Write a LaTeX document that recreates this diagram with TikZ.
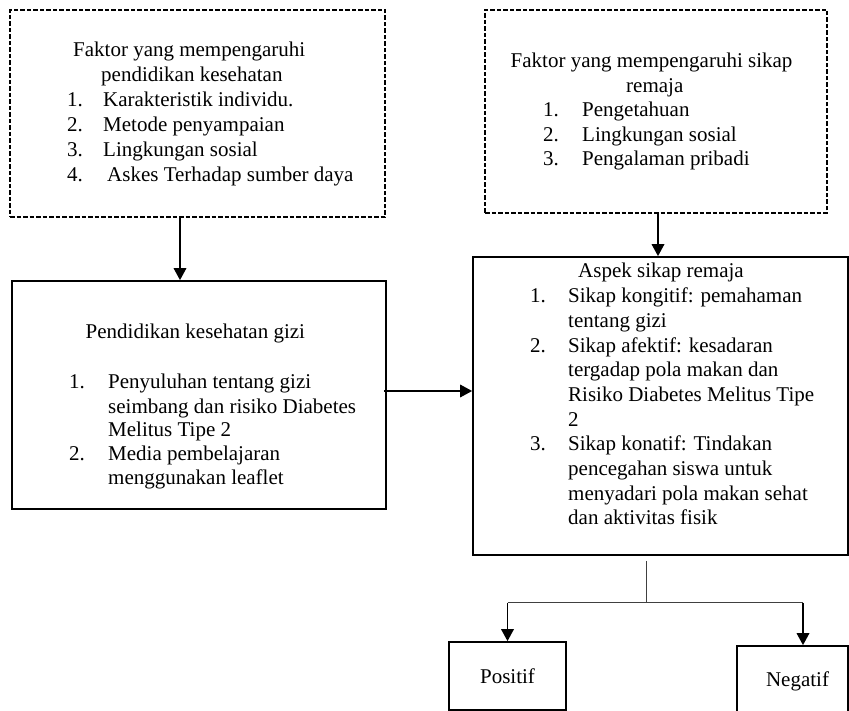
\documentclass[tikz,border=0pt]{standalone}
\usepackage{fontspec}
\setmainfont{Liberation Serif}
\usetikzlibrary{arrows.meta}

\tikzset{
  dbox/.style={draw, dash pattern=on 4.5pt off 2pt, line width=1.7pt, inner sep=0pt},
  sbox/.style={draw, line width=1.7pt, inner sep=0pt},
  txt/.style={anchor=base west, inner sep=0pt},
  arr/.style={-{Triangle[width=12.5pt,length=12pt]}, line width=1.8pt},
  branch/.style={line width=1pt, black!75}
}

\begin{document}
\begin{tikzpicture}[x=1pt, y=-1pt, font=\fontsize{21}{24.5}\selectfont]
    \useasboundingbox (0,0) rectangle (849,711);

    % Factor boxes (top row)
    \node[dbox, minimum width=375pt, minimum height=207pt] (FPend) at (197.5,113.5) {};
    \node[dbox, minimum width=342pt, minimum height=203pt] (FSikap) at (656,111.5) {};

    % Main boxes
    \node[sbox, minimum width=374pt, minimum height=228pt] (Pend) at (199,395) {};
    \node[sbox, minimum width=375pt, minimum height=298pt] (Aspek) at (660.5,406) {};

    % Outcome boxes
    \node[sbox, minimum width=117pt, minimum height=68pt] (Pos) at (507.5,676) {Positif};
    \node[sbox, minimum width=111pt, minimum height=70pt] (Neg) at (792.5,681) {\hspace{10pt}Negatif};

    % Box texts
    \node[txt, font=\fontsize{21}{25}\selectfont] (FPendT) at (67,57) {\begin{tabular}[t]{@{}p{36pt}@{}l@{}}
        \multicolumn{2}{@{}l@{}}{\hspace{6pt}Faktor yang mempengaruhi}\\
        \multicolumn{2}{@{}l@{}}{\hspace{34pt}pendidikan kesehatan}\\
        1. & Karakteristik individu.\\
        2. & Metode penyampaian\\
        3. & Lingkungan sosial\\
        4. & \hspace{4pt}Askes Terhadap sumber daya
    \end{tabular}};
    \node[txt] (FSikapT) at (510.5,68) {\begin{tabular}[t]{@{\hspace{32.5pt}}p{39pt}@{}l@{}}
        \multicolumn{2}{@{}l@{}}{Faktor yang mempengaruhi sikap}\\
        \multicolumn{2}{@{}l@{}}{\hspace{115.5pt}remaja}\\
        1. & Pengetahuan\\
        2. & Lingkungan sosial\\
        3. & Pengalaman pribadi
    \end{tabular}};
    \node[txt, font=\fontsize{21}{24}\selectfont] (PendT) at (69,338) {\begin{tabular}[t]{@{}p{39pt}@{}l@{}}
        \multicolumn{2}{@{}l@{}}{\hspace{16.5pt}Pendidikan kesehatan gizi}\\[27pt]
        1. & Penyuluhan tentang gizi\\
           & seimbang dan risiko Diabetes\\
           & Melitus Tipe 2\\
        2. & Media pembelajaran\\
           & menggunakan leaflet
    \end{tabular}};
    \node[txt, font=\fontsize{21}{24.7}\selectfont] (AspekT) at (530,278) {\begin{tabular}[t]{@{}p{38pt}@{}l@{}}
        \multicolumn{2}{@{}l@{}}{\hspace{48pt}Aspek sikap remaja}\\
        1. & Sikap kongitif: pemahaman\\
           & tentang gizi\\
        2. & Sikap afektif: kesadaran\\
           & tergadap pola makan dan\\
           & Risiko Diabetes Melitus Tipe\\
           & 2\\
        3. & Sikap konatif: Tindakan\\
           & pencegahan siswa untuk\\
           & menyadari pola makan sehat\\
           & dan aktivitas fisik
    \end{tabular}};

    % Connectors
    \draw[arr] ([xshift=-17.5pt]FPend.south) -- ([xshift=-19pt]Pend.north);
    \draw[arr] ([xshift=2pt]FSikap.south) -- ([xshift=-2.5pt]Aspek.north);
    \draw[arr] ([xshift=-3pt,yshift=4pt]Pend.east) -- ([yshift=4pt]Pend.east -| Aspek.west);

    % Branch to outcomes
    \coordinate (split) at ([xshift=-14.5pt,yshift=-47pt]Aspek.south);
    \coordinate (toPos) at (split -| Pos.north);
    \path (split -| Neg.north) ++(10.5,0) coordinate (toNeg);
    \draw[branch] ([xshift=-14.5pt,yshift=-5pt]Aspek.south) -- (split);
    \draw[branch] (toPos) -- (toNeg);
    \draw[arr] (toPos) -- (Pos.north);
    \draw[arr] (toNeg) -- (toNeg |- Neg.north);
\end{tikzpicture}
\end{document}
